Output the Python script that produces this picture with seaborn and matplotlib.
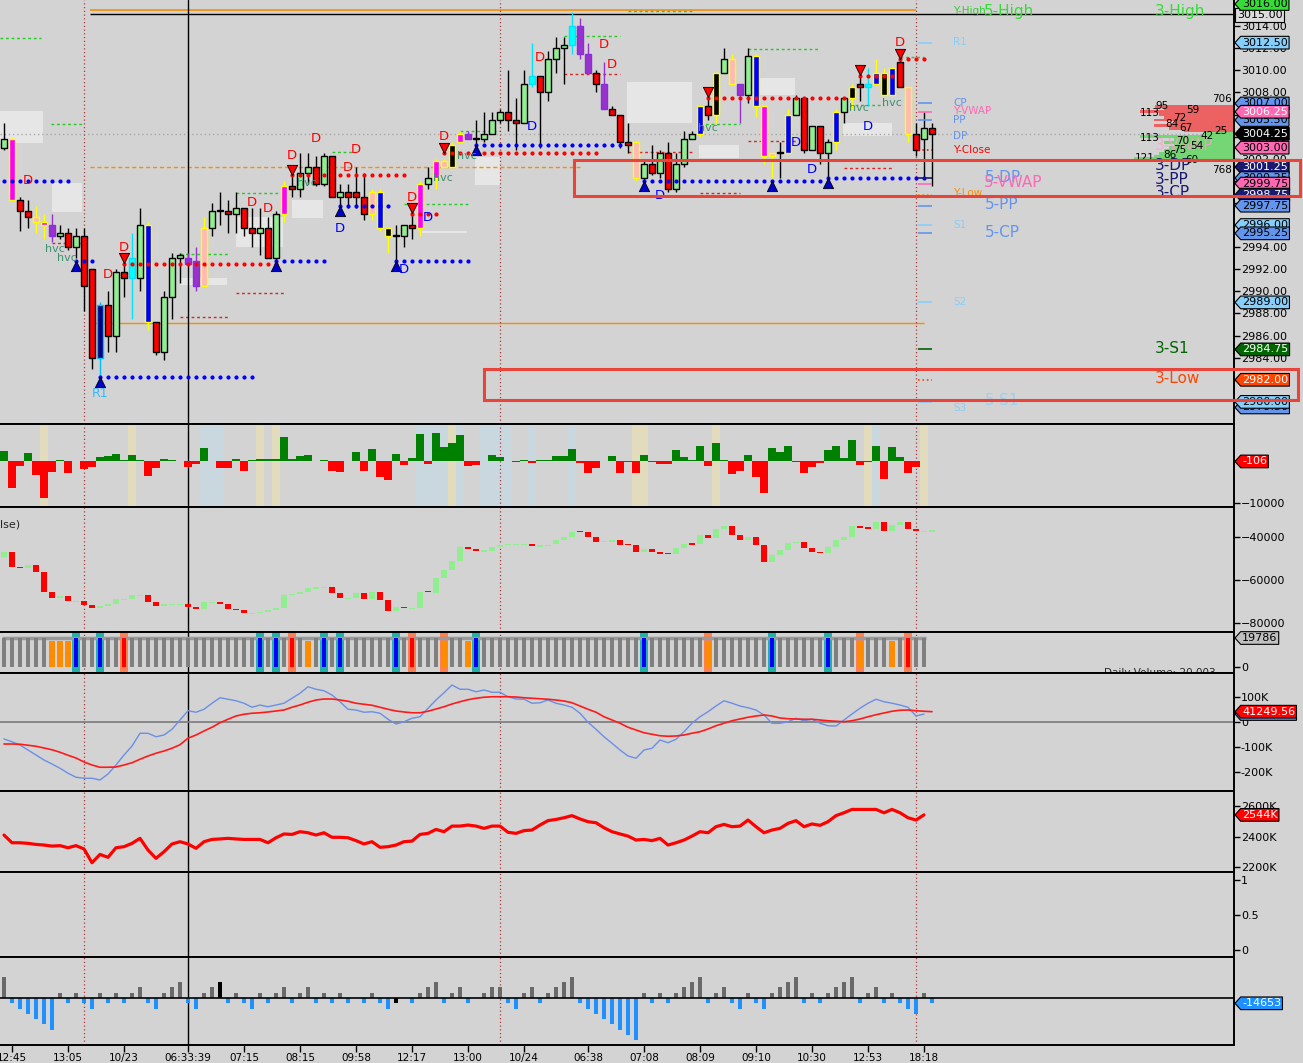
import numpy as np
import pandas as pd
import matplotlib
matplotlib.use("Agg")
import matplotlib.pyplot as plt
import seaborn as sns
from matplotlib.path import Path
from matplotlib.patches import Rectangle
from matplotlib import transforms

# -----------------------------
# Price candles (one per bar)
# -----------------------------
opens = [3003.0, 3003.75, 2998.25, 2997.25, 2996.75, 2996.25, 2996.0, 2995.0, 2995.25, 2994.0,
         2995.0, 2992.0, 2984.0, 2988.75, 2986.0, 2991.75, 2991.25, 2991.25, 2996.0, 2987.25,
         2984.5, 2989.5, 2993.0, 2993.0, 2992.75, 2990.5, 2995.75, 2997.25, 2997.25, 2997.0,
         2997.5, 2995.75, 2995.25, 2995.75, 2993.0, 2997.0, 2999.5, 2999.25, 3000.75, 3001.25,
         2999.75, 3002.25, 2998.5, 2999.0, 2999.0, 2998.5, 2997.0, 2999.0, 2995.75, 2995.0,
         2995.0, 2996.0, 2995.75, 2999.75, 3000.25, 3001.25, 3001.25, 3003.5, 3004.25, 3003.75,
         3003.75, 3004.25, 3005.5, 3006.25, 3005.5, 3005.25, 3008.75, 3009.5, 3008.0, 3011.0,
         3012.0, 3012.25, 3014.0, 3011.5, 3009.75, 3008.75, 3006.5, 3006.0, 3003.5, 3003.5,
         3000.25, 3001.5, 3000.75, 3002.5, 2999.25, 3001.5, 3003.75, 3004.25, 3006.75, 3006.0,
         3009.75, 3011.0, 3008.75, 3007.75, 3011.25, 3006.75, 3002.25, 3002.5, 3002.5, 3006.0,
         3007.5, 3002.75, 3005.0, 3002.5, 3003.5, 3006.25, 3007.5, 3008.75, 3008.5, 3008.75,
         3009.75, 3007.75, 3010.75, 3008.5, 3004.25, 3003.75, 3004.75]
highs = [3005.25, 3004.0, 2998.5, 2998.25, 2997.75, 2997.0, 2997.0, 2996.0, 2995.75, 2995.75,
         2995.75, 2992.0, 2989.0, 2990.0, 2992.0, 2992.75, 2995.25, 2997.5, 2996.25, 2987.25,
         2990.0, 2993.5, 2993.5, 2993.5, 2994.0, 2996.75, 2998.0, 2999.0, 2998.25, 2999.0,
         2997.5, 2997.5, 2997.5, 2996.75, 2997.25, 3000.0, 3000.75, 3002.5, 3002.5, 3002.25,
         3002.5, 3002.25, 2999.75, 2999.75, 3001.25, 3000.75, 2999.25, 2999.25, 2995.75, 2996.0,
         2996.0, 2997.5, 3000.0, 3001.25, 3002.0, 3002.0, 3003.5, 3004.5, 3004.5, 3005.5,
         3006.25, 3006.25, 3006.5, 3010.0, 3007.5, 3010.0, 3012.5, 3009.5, 3011.75, 3013.0,
         3013.0, 3015.25, 3014.75, 3012.5, 3010.0, 3010.75, 3006.75, 3006.0, 3005.25, 3003.5,
         3001.75, 3003.25, 3002.75, 3003.5, 3002.5, 3004.5, 3004.5, 3006.75, 3008.0, 3009.75,
         3012.0, 3011.5, 3008.75, 3012.0, 3011.5, 3006.75, 3002.5, 3003.5, 3006.5, 3007.75,
         3007.5, 3005.0, 3005.0, 3003.75, 3006.5, 3007.5, 3008.75, 3010.25, 3010.25, 3011.0,
         3010.25, 3010.25, 3011.5, 3008.5, 3005.25, 3006.25, 3005.25]
lows = [3002.75, 2998.25, 2995.5, 2995.75, 2995.25, 2994.75, 2994.5, 2994.75, 2993.75, 2993.0,
        2988.25, 2983.0, 2981.5, 2984.5, 2984.5, 2989.5, 2987.5, 2990.0, 2986.5, 2984.25,
        2983.75, 2987.5, 2990.75, 2992.5, 2990.0, 2990.5, 2995.0, 2996.0, 2995.25, 2995.25,
        2995.0, 2994.0, 2993.25, 2993.0, 2992.5, 2996.25, 2998.5, 2998.5, 2999.75, 2999.5,
        2999.5, 2998.5, 2997.25, 2997.5, 2997.5, 2996.5, 2996.5, 2995.5, 2993.5, 2992.0,
        2994.0, 2994.75, 2995.0, 2999.25, 2999.25, 3001.25, 3001.25, 3003.5, 3003.75, 3002.75,
        3003.5, 3004.25, 3005.25, 3004.5, 3002.75, 3005.25, 3008.5, 3003.0, 3007.25, 3009.75,
        3008.75, 3011.5, 3011.0, 3009.75, 3008.0, 3006.5, 3006.0, 3003.0, 3002.5, 3000.0,
        2999.25, 3000.5, 3000.25, 2999.0, 2999.0, 3001.25, 3003.75, 3004.0, 3005.5, 3005.25,
        3009.75, 3008.75, 3005.25, 3007.0, 3005.75, 3001.5, 3000.25, 3000.25, 3002.5, 3006.0,
        3002.5, 3002.75, 3001.5, 3000.25, 3002.75, 3005.25, 3006.5, 3007.25, 3006.75, 3008.75,
        3007.75, 3007.75, 3008.5, 3003.5, 3002.25, 3000.25, 2999.5]
closes = [3003.75, 2998.25, 2997.25, 2996.75, 2996.25, 2996.0, 2995.0, 2995.25, 2994.0, 2995.0,
          2990.5, 2984.0, 2988.75, 2986.0, 2991.75, 2991.25, 2993.0, 2996.0, 2987.25, 2984.5,
          2989.5, 2993.0, 2993.25, 2992.5, 2990.5, 2995.75, 2997.25, 2997.25, 2997.0, 2997.5,
          2995.75, 2995.25, 2995.75, 2993.0, 2997.0, 2999.5, 2999.25, 3000.75, 3001.25, 2999.75,
          3002.25, 2998.5, 2999.0, 2998.5, 2998.5, 2997.0, 2999.0, 2995.75, 2995.0, 2995.0,
          2996.0, 2995.75, 2999.75, 3000.25, 3001.75, 3001.75, 3003.25, 3004.25, 3003.75, 3003.75,
          3004.25, 3005.5, 3006.25, 3005.5, 3005.25, 3008.75, 3009.5, 3008.0, 3011.0, 3012.0,
          3012.25, 3014.0, 3011.5, 3009.75, 3008.75, 3006.5, 3006.0, 3003.5, 3003.25, 3000.25,
          3001.5, 3000.75, 3002.5, 2999.25, 3001.5, 3003.75, 3004.25, 3006.75, 3006.0, 3009.75,
          3011.0, 3008.75, 3007.75, 3011.25, 3006.75, 3002.25, 3002.5, 3002.5, 3006.0, 3007.5,
          3002.75, 3005.0, 3002.5, 3003.5, 3006.25, 3007.5, 3008.5, 3008.5, 3008.75, 3009.75,
          3007.75, 3010.25, 3008.5, 3004.25, 3002.75, 3004.75, 3004.25]
# body colour code per candle
candle_codes = ("gmrrympgrg" "rrnrgrcgbr" "gggppygKrg" "rrgrgmrggr" "grgrrrybkK"
                "grmgmykmpK" "gggrrgcrgg" "gcpprprrry" "grgrgggbrk" "gypgbmyKbg"
                "rgrgbgkrcb" "kbryrgr")

# -----------------------------
# Indicator panels
# -----------------------------
delta = [2400, -6400, -1200, 2000, -3360, -8800, -2700, 240, -2800, 0,
         -1900, -1360, 960, 1200, 1680, 160, 1440, 240, -3520, -1600,
         400, 160, 0, -1360, -800, 3120, 0, -1600, -1600, 400,
         -2320, 240, 400, 400, 400, 5760, 480, 1280, 1440, 0,
         160, -2320, -2560, 0, 2160, -2320, 2880, -3760, -4560, 1680,
         -880, 720, 6560, -640, 6800, 3280, 4400, 6320, -1120, -880,
         0, 1440, 960, 0, -160, 160, -560, 160, 160, 1280,
         1200, 2880, -400, -2800, -1600, 0, 1200, -2800, -320, -2960,
         1440, -160, -800, -800, 2640, 880, 160, 3600, -1120, 4320,
         160, -3200, -2320, 1440, -3760, -7600, 3120, 2160, 3600, -160,
         -2800, -1520, -560, 2640, 3600, 720, 5040, -880, -320, 3600,
         -4400, 3360, 960, -2800, -1360, -106]
delta_tan_bars = [5, 16, 32, 34, 56, 79, 80, 89, 108, 115]
delta_blue_bars = [25, 26, 27, 52, 53, 54, 55, 57, 60, 61, 62, 63, 66, 71, 109]

cum_open_first = -49500
cum_close = [-46980, -53950, -54700, -53200, -56300, -65600, -68400, -67600, -70000, -70000,
             -71800, -73100, -72200, -71100, -69200, -68800, -67300, -67000, -70400, -72300,
             -71500, -71500, -71500, -72600, -73800, -70600, -70400, -71500, -73800, -74100,
             -75600, -75100, -74500, -74200, -73300, -67000, -66600, -65500, -63900, -63600,
             -63300, -66300, -68600, -68300, -66300, -69200, -65500, -69400, -74400, -72600,
             -73300, -73000, -65500, -66000, -59300, -55400, -51200, -44600, -45800, -46600,
             -46600, -44600, -43800, -43500, -43500, -43500, -44300, -44100, -43500, -41500,
             -40300, -37600, -37900, -40300, -42300, -42300, -41500, -43800, -44100, -47100,
             -45800, -47100, -47900, -48200, -45400, -43400, -43500, -39200, -40800, -36300,
             -35000, -39200, -41700, -40200, -44000, -51800, -48700, -46400, -42800, -42300,
             -45300, -47300, -47600, -45000, -41400, -40300, -35200, -36000, -36300, -33000,
             -37200, -34400, -33300, -36300, -37500, -37400, -37400]

# volume bar type: n grey, o orange, t blue/teal, s red/salmon, S orange/salmon
vol_codes = ("nnnnnnooot" "nntnnsnnnn" "nnnnnnnnnn" "nntntnsnon" "tntnnnnnnt"
             "nsnnnSnnot" "nnnnnnnnnn" "nnnnnnnnnn" "tnnnnnnnSn" "nnnnnntnnn"
             "nnntnnnSnn" "nonsnn")
vol_height = {"n": 19786, "t": 19786, "s": 19786, "S": 17900, "o": 17900}

macd_fast = [-68, -79, -92, -112, -132, -152, -168, -185, -205, -221,
             -225, -225, -232, -208, -172, -132, -96, -45, -45, -59,
             -52, -29, 8, 45, 39, 51, 75, 97, 91, 85,
             75, 59, 68, 61, 68, 75, 95, 115, 141, 131,
             125, 108, 81, 51, 48, 39, 41, 35, 11, -8,
             1, 15, 21, 55, 88, 117, 148, 131, 131, 121,
             128, 119, 119, 101, 92, 91, 75, 77, 88, 75,
             68, 59, 35, -1, -29, -59, -85, -112, -136, -145,
             -112, -105, -72, -83, -69, -39, -5, 21, 41, 64,
             85, 75, 64, 57, 48, 28, -5, -5, 1, 15,
             5, 11, -5, -15, -16, 8, 32, 55, 75, 91,
             81, 75, 68, 59, 24, 32]
macd_slow = [-88, -88, -89, -93, -97, -104, -111, -121, -133, -144,
             -160, -172, -181, -181, -180, -172, -163, -149, -136, -125,
             -116, -105, -91, -65, -52, -36, -21, -3, 11, 24,
             31, 35, 37, 40, 44, 48, 59, 68, 79, 88,
             92, 92, 88, 83, 75, 71, 67, 59, 51, 44,
             40, 37, 37, 43, 52, 61, 72, 81, 89, 95,
             99, 101, 101, 101, 100, 97, 95, 93, 91, 88,
             84, 77, 64, 51, 39, 21, 8, -5, -21, -32,
             -43, -49, -55, -57, -56, -52, -45, -39, -28, -15,
             -5, 5, 12, 19, 24, 28, 24, 16, 13, 12,
             11, 11, 8, 5, 3, 1, 5, 12, 21, 29,
             36, 43, 47, 48, 45, 43, 41.25]

flow_line = [2411, 2360, 2360, 2356, 2349, 2345, 2338, 2341, 2327, 2341,
             2319, 2228, 2283, 2264, 2327, 2334, 2356, 2389, 2312, 2257,
             2301, 2352, 2367, 2352, 2323, 2367, 2382, 2385, 2389, 2385,
             2382, 2382, 2382, 2360, 2393, 2418, 2415, 2433, 2426, 2411,
             2426, 2396, 2396, 2393, 2374, 2352, 2367, 2330, 2334, 2345,
             2367, 2371, 2415, 2422, 2448, 2433, 2470, 2470, 2477, 2470,
             2455, 2470, 2470, 2429, 2422, 2440, 2444, 2477, 2506, 2514,
             2525, 2539, 2517, 2499, 2492, 2459, 2433, 2418, 2404, 2378,
             2382, 2374, 2389, 2345, 2360, 2378, 2404, 2433, 2426, 2466,
             2481, 2466, 2470, 2510, 2466, 2426, 2444, 2455, 2488, 2506,
             2466, 2484, 2475, 2499, 2539, 2558, 2580, 2580, 2580, 2580,
             2558, 2580, 2558, 2525, 2510, 2544]

hist_units = [4, -1, -2, -3, -4, -5, -6, 1, -1, 1,
              -1, -2, 1, -1, 1, -1, 1, 2, -1, -2,
              1, 2, 3, -1, -2, 1, 2, 3, -1, 1,
              -1, -2, 1, -1, 1, 2, -1, 1, 2, -1,
              1, -1, 1, -1, 0, -1, 1, -1, -2, -1,
              0, -1, 1, 2, 3, -1, 1, 2, -1, 0,
              1, 2, 2, -1, -2, 1, 2, -1, 1, 2,
              3, 4, -1, -2, -3, -4, -5, -6, -7, -8,
              1, -1, 1, -1, 1, 2, 3, 4, -1, 1,
              2, -1, -2, 1, -1, -2, 1, 2, 3, 4,
              -1, 1, -1, 1, 2, 3, 4, -1, 1, 2,
              -1, 1, -1, -2, -3, 1, -1]
hist_black_bars = [27, 49]

tick_bars = [1, 8, 15, 23, 30, 37, 44, 51, 58, 65, 73, 80, 87, 94, 101, 108, 115]
tick_labels = ["12:45", "13:05", "10/23", "06:33:39", "07:15", "08:15", "09:58", "12:17",
               "13:00", "10/24", "06:38", "07:08", "08:09", "09:10", "10:30", "12:53", "18:18"]

# -----------------------------
# Price panel overlays
# -----------------------------
# (price, first bar, last bar)
blue_dot_lines = [(3000.0, 0, 8), (2992.75, 9, 11), (2982.25, 12, 31), (2992.75, 34, 40),
                  (2997.75, 42, 48), (2992.75, 49, 58), (3003.25, 59, 77), (3000.0, 80, 102),
                  (3000.25, 103, 115)]
blue_triangles = [(9, 2992.75), (12, 2982.25), (34, 2992.75), (42, 2997.75), (49, 2992.75),
                  (59, 3003.25), (80, 3000.0), (96, 3000.0), (103, 3000.25)]
red_dot_lines = [(2992.5, 15, 34), (3000.5, 36, 50), (2997.0, 51, 54), (3002.5, 55, 74),
                 (3007.5, 88, 105), (3009.5, 107, 111), (3011.0, 112, 115)]
red_triangles = [(15, 2992.5), (36, 3000.5), (51, 2997.0), (55, 3002.5), (88, 3007.5),
                 (107, 3009.5), (112, 3011.0)]
red_d = [(39, 3003.8), (36, 3002.25), (44, 3002.8), (43, 3001.25), (31, 2998.0), (33, 2997.5),
         (15, 2994.0), (13, 2991.5), (51, 2998.5), (55, 3004.05), (3, 3000.0), (67, 3011.2),
         (75, 3012.3), (76, 3010.5), (112, 3012.55)]
blue_d = [(42, 2995.7), (50, 2992.0), (53, 2996.7), (66, 3004.9), (82, 2998.7), (99, 3003.5),
          (101, 3001.0), (108, 3004.9)]
hvc_marks = [(6.4, 2993.8), (7.9, 2993.0), (37.9, 2999.8), (54.9, 3000.25), (57.9, 3002.25),
             (88, 3004.8), (106.9, 3006.6), (111, 3007.0)]
value_boxes = [(-0.5, 4.9, 3006.3, 3003.4), (6.0, 9.75, 2999.8, 2997.2), (36.0, 39.9, 2998.25, 2996.6),
               (29.0, 34.9, 2996.7, 2994.0), (22.0, 27.9, 2991.2, 2990.6), (52.25, 57.9, 2995.45, 2995.25),
               (58.9, 62.0, 3002.15, 2999.6), (77.9, 86.0, 3008.9, 3005.2), (86.9, 91.9, 3003.25, 3002.05),
               (94.25, 98.9, 3009.3, 3007.75), (104.9, 111.0, 3005.25, 3004.05)]
green_dashes = [(3012.9, -0.5, 4.6), (3005.1, 5.9, 9.75), (2998.9, 29, 35), (3002.6, 41, 44),
                (2997.9, 50, 58), (2993.4, 22, 28), (3013.1, 70, 77), (3015.4, 78, 86),
                (3011.9, 93, 102), (3005.1, 87, 92), (3006.9, 105, 110), (3004.5, 57, 62),
                (3011.2, 112, 115)]
red_dashes = [(2989.85, 29, 35), (2987.7, 22, 28), (2994.4, 6, 10), (3009.65, 70, 77),
              (3002.6, 78, 86), (3003.6, 93, 99), (2998.9, 87, 92), (3001.15, 105, 111)]
# right-hand level names: (text, price, x pixel, colour, size)
level_labels = [("Y-High", 3015.36, 953, "#33cc33", 7.5), ("5-High", 3015.36, 984, "#33dd33", 11),
                ("3-High", 3015.36, 1155, "#33dd33", 11), ("R1", 3012.56, 953, "#87cefa", 7.5),
                ("CP", 3007.04, 953, "#6495ed", 7.5), ("Y-VWAP", 3006.31, 953, "#ff69b4", 7.5),
                ("PP", 3005.5, 953, "#6495ed", 7.5), ("DP", 3004.05, 953, "#6495ed", 7.5),
                ("Y-Close", 3002.78, 953, "#ff0000", 7.5), ("Y-Low", 2998.9, 953, "#ff8c00", 7.5),
                ("S1", 2996.0, 953, "#87cefa", 7.5), ("S2", 2989.03, 953, "#87cefa", 7.5),
                ("S3", 2979.43, 953, "#87cefa", 7.5), ("5-DP", 3000.34, 985, "#6495ed", 11),
                ("5-VWAP", 2999.89, 984, "#ff69b4", 11), ("5-PP", 2997.9, 985, "#6495ed", 11),
                ("5-CP", 2995.36, 985, "#6495ed", 11), ("5-S1", 2980.16, 985, "#9ccff0", 11),
                ("3-VWAP", 3003.24, 1155, "#ff9fcf", 11), ("3-DP", 3001.43, 1155, "#191970", 11),
                ("3-PP", 3000.16, 1155, "#191970", 11), ("3-CP", 2998.98, 1155, "#191970", 11),
                ("3-S1", 2984.86, 1155, "#006400", 11), ("3-Low", 2982.15, 1155, "#ff4500", 11)]
level_ticks = [(3012.5, "#87cefa", "-"), (3007.0, "#6495ed", "-"), (3006.25, "#ff69b4", "-"),
               (3005.5, "#6495ed", "-"), (3002.75, "#ff0000", ":"), (3000.25, "#191970", "-"),
               (2999.75, "#ff69b4", "-"), (2998.75, "#ff8c00", ":"), (2997.75, "#6495ed", "-"),
               (2996.0, "#87cefa", "-"), (2995.25, "#6495ed", "-"), (2989.0, "#87cefa", "-"),
               (2984.75, "#006400", "-"), (2982.0, "#ff4500", ":"), (2980.0, "#87cefa", "-")]
profile_price = [3006.75, 3006.5, 3006.25, 3006.0, 3005.75, 3005.5, 3005.25, 3005.0, 3004.75, 3004.5,
                 3004.25, 3004.0, 3003.75, 3003.5, 3003.25, 3003.0, 3002.75, 3002.5, 3002.25, 3002.0]
profile_len = [79, 70, 94, 75, 70, 80, 60, 80, 65, 50, 30, 94, 60, 70, 60, 65, 70, 75, 80, 100]
profile_numbers = [(1222, 3007.4, "706"), (1162, 3006.75, "95"), (1150, 3006.15, "113"),
                   (1193, 3006.4, "59"), (1180, 3005.7, "72"), (1172, 3005.1, "84"),
                   (1186, 3004.75, "67"), (1207, 3004.1, "42"), (1221, 3004.5, "25"),
                   (1150, 3003.9, "113"), (1183, 3003.6, "70"), (1197, 3003.15, "54"),
                   (1180, 3002.75, "75"), (1170, 3002.3, "86"), (1145, 3002.1, "121"),
                   (1192, 3001.9, "60"), (1222, 3001.0, "768")]
price_tags = [(3016.0, "3016.00", "#33dd33", "black"), (3012.5, "3012.50", "#87cefa", "black"),
              (3007.0, "3007.00", "#6495ed", "black"), (3005.5, "3005.50", "#6495ed", "black"),
              (3006.25, "3006.25", "#ff69b4", "white"), (3004.25, "3004.25", "black", "white"),
              (3003.0, "3003.00", "#ff69b4", "black"), (3001.25, "3001.25", "#191970", "white"),
              (3000.25, "3000.25", "#6495ed", "black"), (2999.75, "2999.75", "#ff69b4", "black"),
              (2998.75, "2998.75", "#191970", "white"), (2997.75, "2997.75", "#6495ed", "black"),
              (2996.0, "2996.00", "#87cefa", "black"), (2995.25, "2995.25", "#6495ed", "black"),
              (2989.0, "2989.00", "#87cefa", "black"), (2984.75, "2984.75", "#006400", "white"),
              (2982.0, "2982.00", "#ff4500", "white"), (2979.5, "2979.50", "#6495ed", "black"),
              (2980.0, "2980.00", "#87cefa", "black")]
# red hand-drawn boxes: (left axes fraction, right axes fraction, price top, price bottom)
mark_boxes = [(0.465, 1.0535, 3001.9, 2998.6), (0.392, 1.052, 2983.0, 2980.2)]
session_lines = [(10, ":"), (23, "-"), (62, ":"), (114, ":")]

# -----------------------------
# Figure
# -----------------------------
BG = "#d3d3d3"
sns.set_style("white", rc={"axes.facecolor": BG, "figure.facecolor": BG})
plt.rcParams['font.family'] = ['DejaVu Sans']

W, H, AXW = 1303, 1063, 1234
XMAX = 153.75
fig = plt.figure(figsize=(W / 100, H / 100), dpi=100)
fig.patch.set_facecolor(BG)


def px2x(px):
    return px / 8.0 - 0.5


def make_ax(top, bottom, ylim):
    ax = fig.add_axes([0, 1 - bottom / H, AXW / W, (bottom - top) / H])
    ax.set_facecolor(BG)
    ax.spines["left"].set_visible(False)
    for s in ["top", "right", "bottom"]:
        ax.spines[s].set_color("black")
        ax.spines[s].set_linewidth(1.4)
    ax.set_xlim(-0.5, XMAX)
    ax.set_ylim(*ylim)
    ax.yaxis.tick_right()
    ax.tick_params(axis="y", direction="out", length=4, width=1, labelsize=8, pad=1, colors="black")
    ax.tick_params(axis="x", bottom=False, labelbottom=False)
    for b, ls in session_lines:
        if ls == "-":
            ax.axvline(b, color="black", lw=1, zorder=1)
        else:
            ax.axvline(b, color="#b03838", lw=0.9, ls=(0, (1, 2)), zorder=1)
    return ax


def tag_shape(x0, y0, width, height, mutation_size):
    pad = 0.12 * mutation_size
    x0, y0 = x0 - pad, y0 - pad
    x1, y1 = x0 + width + 2 * pad, y0 + height + 2 * pad
    ym = (y0 + y1) / 2
    tip = x0 - (y1 - y0) * 0.45
    return Path([(tip, ym), (x0, y1), (x1, y1), (x1, y0), (x0, y0), (tip, ym)],
                [Path.MOVETO] + [Path.LINETO] * 4 + [Path.CLOSEPOLY])


def add_tag(ax, val, text, fc, tc, shape=tag_shape, dx=8):
    tr = transforms.blended_transform_factory(ax.transAxes, ax.transData)
    ax.annotate(text, xy=(1, val), xycoords=tr, xytext=(dx, 0), textcoords="offset pixels",
                ha="left", va="center", fontsize=8, color=tc, annotation_clip=False, zorder=10,
                bbox=dict(boxstyle=shape, fc=fc, ec="black", lw=0.8))


x_all = np.arange(len(closes))

# ---- price panel ----
ax0 = make_ax(0, 424, (2978.0, 3016.36))
ax0.spines["top"].set_visible(False)
ax0.set_yticks(np.arange(2980, 3016.1, 2))
ax0.yaxis.set_major_formatter(matplotlib.ticker.FormatStrFormatter("%.2f"))

for x0, x1, ptop, pbot in value_boxes:
    ax0.add_patch(Rectangle((x0, pbot), x1 - x0, ptop - pbot, fc="#e6e6e6", ec="none", zorder=0.5))

ax0.axhline(closes[-1], color="#a8a8a8", ls=(0, (1, 2)), lw=1, zorder=0.6)
ax0.hlines(3015.45, 10.75, 114, color="#ff8c00", lw=1.2, zorder=0.7)
ax0.hlines(3015.1, 10.75, XMAX, color="black", lw=1, zorder=0.7)
ax0.hlines(3001.25, 10.75, 72, color="#ff8c00", lw=1, ls=(0, (3, 2)), zorder=0.7)
ax0.hlines(2987.13, 10.75, 115, color="#ff8c00", lw=1, zorder=0.7)
for p, a, b in green_dashes:
    ax0.hlines(p, a, b, color="#22cc22", lw=1, ls=(0, (2, 2)), zorder=0.8)
for p, a, b in red_dashes:
    ax0.hlines(p, a, b, color="#dd2222", lw=1, ls=(0, (2, 2)), zorder=0.8)

# candles
face_map = {"g": "#90ee90", "r": "#ff0000", "m": "#ff00ff", "p": "#9932cc", "c": "#00ffff",
            "b": "#0000ff", "k": "#000000", "K": "#000000", "y": "#ffb6c1", "n": "#000080"}
edge_map = {"g": "black", "r": "black", "m": "#ffff00", "p": "#8a2be2", "c": "#00e5ff",
            "b": "#ffff00", "k": "#ffff00", "K": "black", "y": "#ffff00", "n": "#00bfff"}
wick_map = {"g": "black", "r": "black", "m": "#ffff00", "p": "#9932cc", "c": "#00e5ff",
            "b": "#ffff00", "k": "#ffff00", "K": "black", "y": "#ffff00", "n": "#00bfff"}
o = np.array(opens)
c = np.array(closes)
ax0.vlines(x_all, lows, highs, colors=[wick_map[k] for k in candle_codes], lw=1, zorder=2)
body_bot = np.minimum(o, c)
body_h = np.maximum(np.abs(c - o), 0.08)
ax0.bar(x_all, body_h, bottom=body_bot, width=0.78,
        color=[face_map[k] for k in candle_codes],
        edgecolor=[edge_map[k] for k in candle_codes], lw=1, zorder=3)

for p, a, b in blue_dot_lines:
    xs = np.arange(a, b + 1)
    ax0.scatter(xs, np.full(len(xs), p), s=9, color="#0000ff", zorder=4, linewidths=0)
for p, a, b in red_dot_lines:
    xs = np.arange(a, b + 1)
    ax0.scatter(xs, np.full(len(xs), p), s=9, color="#ff0000", zorder=4, linewidths=0)
bt = np.array(blue_triangles)
ax0.scatter(bt[:, 0], bt[:, 1] - 0.45, marker="^", s=55, color="#0000cc", edgecolors="black",
            linewidths=0.6, zorder=5)
rt = np.array(red_triangles)
ax0.scatter(rt[:, 0], rt[:, 1] + 0.5, marker="v", s=55, color="#ff0000", edgecolors="black",
            linewidths=0.6, zorder=5)
for bx, p in red_d:
    ax0.text(bx, p, "D", color="#ff0000", fontsize=9.5, ha="center", va="center", zorder=6)
for bx, p in blue_d:
    ax0.text(bx, p, "D", color="#0000ff", fontsize=9.5, ha="center", va="center", zorder=6)
for bx, p in hvc_marks:
    ax0.text(bx, p, "hvc", color="#3f8f6f", fontsize=8, ha="center", va="center", zorder=6)
ax0.text(12, 2980.8, "R1", color="#33bbff", fontsize=9, ha="center", va="center", zorder=6)

# level labels & short ticks at the right
for name, p, xpx, col, fs in level_labels:
    ax0.text(px2x(xpx), p, name, color=col, fontsize=fs, ha="left", va="center", zorder=6,
             alpha=0.75 if name == "3-VWAP" else 1)
for p, col, ls in level_ticks:
    ax0.hlines(p, px2x(918), px2x(932), color=col, lw=1.2, ls=ls, zorder=4)

# volume profile
for p, ln in zip(profile_price, profile_len):
    col = "#ec6262" if p > 3004.4 else "#74d674"
    ax0.barh(p, -ln / 8.0, left=XMAX, height=0.25, color=col, lw=0, zorder=2)
for xpx, p, t in profile_numbers:
    ax0.text(px2x(xpx), p, t, fontsize=7.5, color="black", ha="center", va="center", zorder=7)

add_tag(ax0, 3015.0, "3015.00", "#dcdcdc", "black", shape="square,pad=0.15", dx=3)
for p, t, fc, tc in price_tags:
    add_tag(ax0, p, t, fc, tc)

tr0 = transforms.blended_transform_factory(ax0.transAxes, ax0.transData)
for a, b, ptop, pbot in mark_boxes:
    ax0.add_patch(Rectangle((a, pbot), b - a, ptop - pbot, transform=tr0, fill=False,
                            ec="#e8443a", lw=2.2, clip_on=False, zorder=12))

# ---- delta histogram ----
ax1 = make_ax(424, 507, (-11031, 8873))
xd = np.arange(len(delta))
ax1.bar(delta_tan_bars, [30000] * len(delta_tan_bars), bottom=-15000, width=1.0,
        color="#e2dcbc", lw=0, zorder=0.5)
ax1.bar(delta_blue_bars, [30000] * len(delta_blue_bars), bottom=-15000, width=1.0,
        color="#c9d8df", lw=0, zorder=0.5)
dcol = ["#008000" if v >= 0 else "#ff0000" for v in delta]
ax1.bar(xd, delta, width=0.88, color=dcol, lw=0, zorder=2)
ax1.set_yticks([-10000])
add_tag(ax1, delta[-1], "-106", "#ff0000", "white")

# ---- cumulative delta candles ----
ax2 = make_ax(507, 632, (-84330, -26200))
cc = np.array(cum_close)
co = np.concatenate([[cum_open_first], cc[:-1]])
chg = cc - co
small = np.abs(chg) < 700
ccol = ["#90ee90" if v >= 0 else "#ff0000" for v in chg]
ax2.bar(np.arange(len(cc)), np.where(small, 600, np.abs(chg)),
        bottom=np.where(small, co - 300, np.minimum(co, cc)),
        width=0.85, color=ccol, lw=0, zorder=2)
ax2.set_yticks([-40000, -60000, -80000])
ax2.text(-0.5, -34300, "lse)", fontsize=8, ha="left", va="center")

# ---- volume ----
ax3 = make_ax(632, 673, (-4094, 23880))
xv = np.arange(len(vol_codes))
vh = [vol_height[k] for k in vol_codes]
caps = [(i, "#20b2aa" if k == "t" else "#ff7f50") for i, k in enumerate(vol_codes) if k in "tsS"]
ax3.bar([i for i, _ in caps], [40000] * len(caps), bottom=-10000, width=0.95,
        color=[col for _, col in caps], lw=0, zorder=0.5)
vcol = {"n": "#808080", "o": "#ff8c00", "t": "#0000ff", "s": "#ff0000", "S": "#ff8c00"}
vwid = {"n": 0.38, "o": 0.7, "t": 0.6, "s": 0.6, "S": 0.7}
for i, k in enumerate(vol_codes):
    ax3.bar(i, vh[i], width=vwid[k], color=vcol[k], lw=0, zorder=2)
ax3.hlines(19786, -0.2, len(vol_codes) - 0.8, color="#9a9a9a", lw=2.5, zorder=1.8)
ax3.set_yticks([0])
ax3.text(px2x(1104), -900, "Daily Volume: 20,003", fontsize=7.5, ha="left", va="top", clip_on=True)
add_tag(ax3, 19786, "19786", "#c0c0c0", "black")

# ---- macd-like ----
ax4 = make_ax(673, 791, (-276, 196))
ax4.axhline(0, color="#808080", lw=1.3, zorder=1)
df_macd = pd.DataFrame({"bar": np.arange(len(macd_fast)), "fast": macd_fast})
df_sig = pd.DataFrame({"bar": np.arange(len(macd_slow)), "slow": macd_slow})
sns.lineplot(data=df_macd, x="bar", y="fast", ax=ax4, color="#6a8fe6", lw=1, zorder=3)
sns.lineplot(data=df_sig, x="bar", y="slow", ax=ax4, color="#ff1a1a", lw=1.2, zorder=3)
ax4.set_xlabel("")
ax4.set_ylabel("")
ax4.set_yticks([100, 0, -100, -200])
ax4.set_yticklabels(["100K", "0", "-100K", "-200K"])
add_tag(ax4, macd_fast[-1], "41249.56", "#6495ed", "#6495ed")
add_tag(ax4, macd_slow[-1], "41249.56", "#ff0000", "white")

# ---- flow line ----
ax5 = make_ax(791, 872, (2167, 2701.6))
df_flow = pd.DataFrame({"bar": np.arange(len(flow_line)), "val": flow_line})
sns.lineplot(data=df_flow, x="bar", y="val", ax=ax5, color="#ff0000", lw=2.3, zorder=3)
ax5.set_xlabel("")
ax5.set_ylabel("")
ax5.set_yticks([2600, 2400, 2200])
ax5.set_yticklabels(["2600K", "2400K", "2200K"])
add_tag(ax5, flow_line[-1], "2544K", "#ff0000", "white")

# ---- empty study ----
ax6 = make_ax(872, 957, (-0.1, 1.114))
ax6.set_yticks([1, 0.5, 0])
ax6.set_yticklabels(["1", "0.5", "0"])

# ---- bottom histogram ----
ax7 = make_ax(957, 1045, (-8.87, 7.74))
xh = np.arange(len(hist_units))
hcol = ["black" if i in hist_black_bars else ("#696969" if v > 0 else "#1e90ff")
        for i, v in enumerate(hist_units)]
ax7.bar(xh, hist_units, width=0.45, color=hcol, lw=0, zorder=2)
ax7.axhline(0, color="black", lw=1.2, zorder=3)
ax7.set_yticks([])
add_tag(ax7, hist_units[-1], "-14653", "#1e90ff", "white")

ax7.set_xticks(tick_bars)
ax7.set_xticklabels(tick_labels)
ax7.tick_params(axis="x", bottom=True, labelbottom=True, direction="out", length=5, width=1,
                labelsize=7.5, pad=1, colors="black")

fig.savefig("out.png", dpi=100, facecolor=BG)
